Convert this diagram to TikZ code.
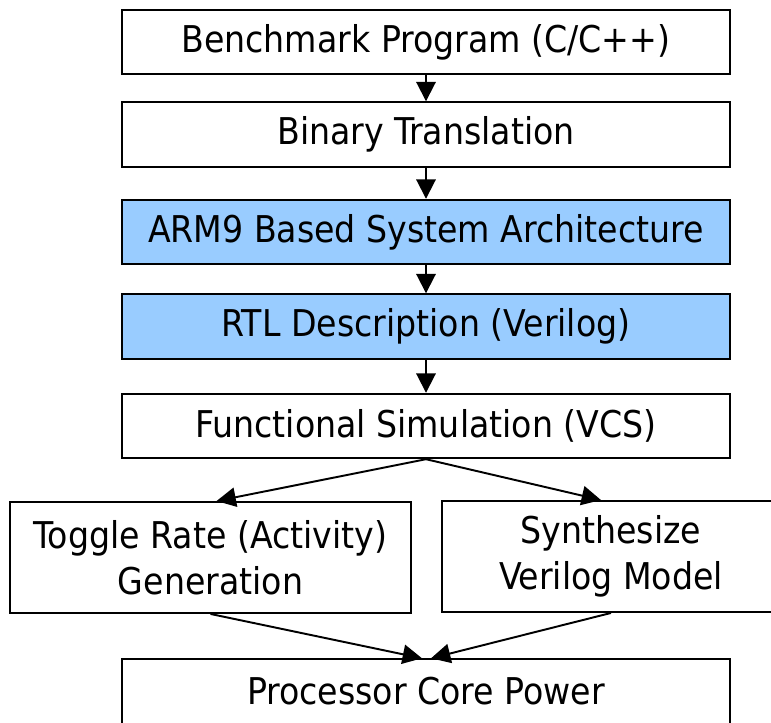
\documentclass[tikz,border=0pt]{standalone}
\usepackage{fontspec}
\setmainfont{DejaVu Sans Condensed}
\usepackage{xcolor}
\usetikzlibrary{positioning, arrows.meta}
\definecolor{stepblue}{RGB}{153,204,255}
\tikzset{
  flowbox/.style={draw, line width=1.1pt, fill=white, align=center,
    inner sep=0pt, font=\fontsize{21}{26}\selectfont},
  mainbox/.style={flowbox, minimum width=12.16cm, minimum height=1.29cm},
  flowarrow/.style={line width=1.1pt, -{Triangle[length=11pt,width=11pt]}}
}
\begin{document}
\begin{tikzpicture}[x=0.02cm, y=-0.02cm]
  \useasboundingbox (0,0) rectangle (771,723);
  \clip (0,0) rectangle (771,723);

  %% main chain
  \node[mainbox] (bench) at (426,42) {Benchmark Program (C/C++)};
  \node[mainbox] (binary) at (426,134.5) {Binary Translation};
  \node[mainbox, fill=stepblue] (arch) at (426,232) {ARM9 Based System Architecture};
  \node[mainbox, fill=stepblue] (rtl) at (426,326.5) {RTL Description (Verilog)};
  \node[mainbox] (funcsim) at (426,426) {Functional Simulation (VCS)};

  %% split
  \node[flowbox, minimum width=8.02cm, minimum height=2.22cm] (toggle) at (210.5,557.5)
    {Toggle Rate (Activity)\\Generation};
  \node[flowbox, minimum width=6.76cm, minimum height=2.22cm] (synth) at (611,556.5)
    {Synthesize\\Verilog Model};

  %% result
  \node[mainbox] (power) at (426,691.5) {Processor Core Power};

  %% arrows
  \draw[flowarrow] (bench) -- (binary);
  \draw[flowarrow] (binary) -- (arch);
  \draw[flowarrow] (arch) -- (rtl);
  \draw[flowarrow] (rtl) -- (funcsim);
  \draw[flowarrow] (funcsim.south) -- ([xshift=0.12cm]toggle.north);
  \draw[flowarrow] (funcsim.south) -- ([xshift=-0.2cm]synth.north);
  \draw[flowarrow] (toggle.south) -- ([xshift=-0.08cm]power.north);
  \draw[flowarrow] (synth.south) -- ([xshift=0.1cm]power.north);
\end{tikzpicture}
\end{document}
